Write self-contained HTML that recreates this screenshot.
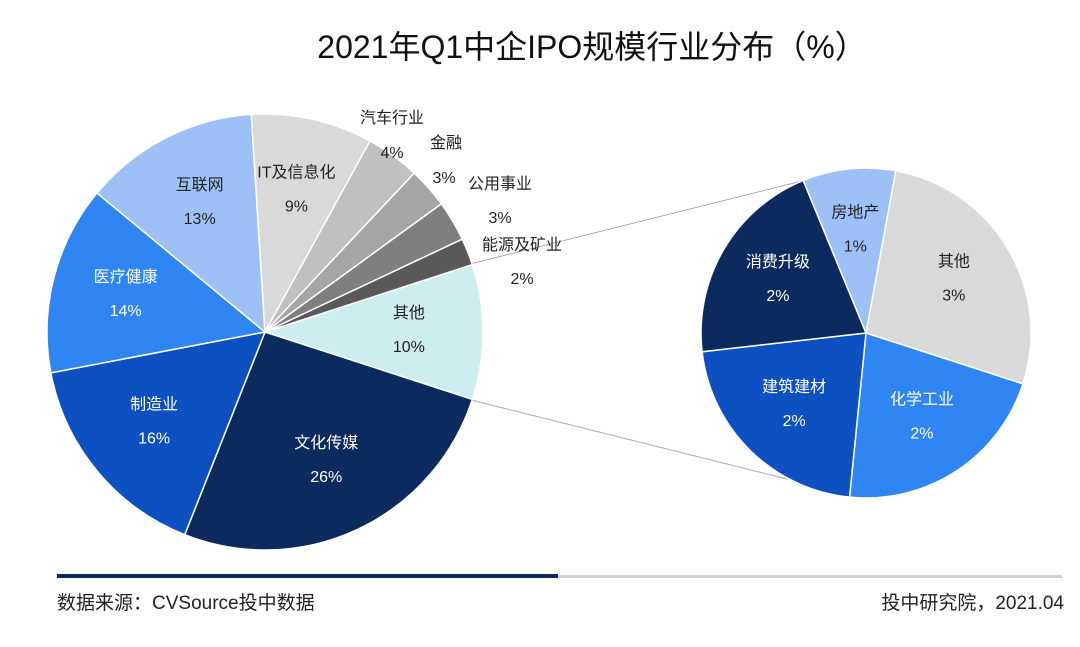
<!DOCTYPE html>
<html><head><meta charset="utf-8"><style>
html,body{margin:0;padding:0;background:#fff;}
body{width:1080px;height:642px;overflow:hidden;position:relative;font-family:"Liberation Sans","Noto Sans CJK SC",sans-serif;}
svg text{font-family:"Liberation Sans","Noto Sans CJK SC",sans-serif;}
</style></head><body>
<svg id="chart" width="1080" height="642">
<text x="592" y="58" font-size="32" text-anchor="middle" fill="#111">2021年Q1中企IPO规模行业分布（%）</text>
<line x1="470" y1="264" x2="806" y2="180" stroke="#aaa" stroke-width="1"/>
<line x1="471" y1="400" x2="851" y2="495" stroke="#aaa" stroke-width="1"/>
<g id="main"></g>
<g id="sub"></g>
<rect x="57" y="574" width="501" height="4" fill="#0a2a5e"/>
<rect x="558" y="575" width="504" height="3" fill="#cfcfcf"/>
<text x="57" y="609" font-size="19" fill="#222">数据来源：CVSource投中数据</text>
<text x="1064" y="609" font-size="19" fill="#222" text-anchor="end">投中研究院，2021.04</text>
</svg>
<script>
const mainCats=["其他","文化传媒","制造业","医疗健康","互联网","IT及信息化","汽车行业","金融","公用事业","能源及矿业"];
const mainVals=[10,26,16,14,13,9,4,3,3,2];
const mainLabels=["10%","26%","16%","14%","13%","9%","4%","3%","3%","2%"];
const subCats=["其他","化学工业","建筑建材","消费升级","房地产"];
const subVals=[2.71,2.16,2.16,2.06,0.91];
const subLabels=["3%","2%","2%","2%","1%"];
const mainColors=["#cdedf1","#0b2a5e","#0d50c2","#2f86f2","#9dc1f6","#d9d9d9","#c0c0c0","#a5a5a5","#7f7f7f","#595959"];
const mainText=["#222","#fff","#fff","#fff","#222","#222","#222","#222","#222","#222"];
const subColors=["#d9d9d9","#2f86f2","#0d50c2","#0b2a5e","#9dc1f6"];
const subText=["#222","#fff","#fff","#fff","#222"];
const NS="http://www.w3.org/2000/svg";
const outsidePos={6:[392,117,392,152],7:[446,142,444,177],8:[500,183,500,217],9:[522,244,522,278]};
function pie(g,cats,vals,labels,colors,tcol,cx,cy,r,start,k,outside){
  const tot=vals.reduce((a,b)=>a+b,0);let a=start;
  vals.forEach((v,i)=>{
    const sw=v/tot*360,a0=a*Math.PI/180,a1=(a+sw)*Math.PI/180;
    const x0=cx+r*Math.cos(a0),y0=cy+r*Math.sin(a0),x1=cx+r*Math.cos(a1),y1=cy+r*Math.sin(a1);
    const p=document.createElementNS(NS,"path");
    p.setAttribute("d",`M${cx},${cy}L${x0},${y0}A${r},${r} 0 ${sw>180?1:0} 1 ${x1},${y1}Z`);
    p.setAttribute("fill",colors[i]);p.setAttribute("stroke","#fff");p.setAttribute("stroke-width","1.5");
    
    
    g.appendChild(p);
    const m=(a+sw/2)*Math.PI/180;
    let lx=cx+r*k*Math.cos(m),ly=cy+r*k*Math.sin(m)-20,px=lx,py=ly+34,fill=tcol[i];
    if(outside&&outside[i]){[lx,ly,px,py]=outside[i];fill="#222";}
    [[cats[i],lx,ly,'label-'],[labels[i],px,py,'value-']].forEach(t=>{
      const e=document.createElementNS(NS,"text");
      e.setAttribute("x",t[1]);e.setAttribute("y",t[2]+6);e.setAttribute("text-anchor","middle");
      e.setAttribute("font-size","16");e.setAttribute("fill",fill);e.textContent=t[0];
      
      
      g.appendChild(e);
    });
    a+=sw;
  });
}
pie(document.getElementById("main"),mainCats,mainVals,mainLabels,mainColors,mainText,265,332,218,-18,0.66,outsidePos);
pie(document.getElementById("sub"),subCats,subVals,subLabels,subColors,subText,866,333,165,-79.6,0.62,null);
</script>
</body></html>
